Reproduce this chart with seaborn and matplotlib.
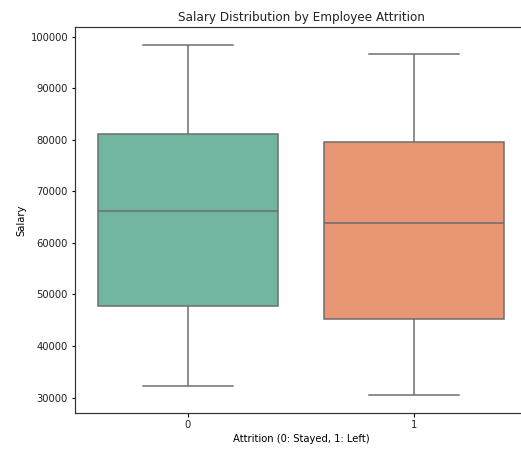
import matplotlib
matplotlib.use("Agg")
import matplotlib.pyplot as plt
import seaborn as sns
import pandas as pd

# Salary samples per attrition group (five-number style samples)
salary_stayed = [32300, 47700, 66100, 81200, 98500]
salary_left = [30400, 45300, 63900, 79500, 96750]
groups = ["0", "1"]

df = pd.DataFrame({
    "Attrition": [groups[0]] * len(salary_stayed) + [groups[1]] * len(salary_left),
    "Salary": salary_stayed + salary_left,
})

W, H, DPI = 521, 452, 72
plt.rcParams["axes.linewidth"] = 1.2
plt.rcParams["xtick.major.width"] = 1.1
plt.rcParams["ytick.major.width"] = 1.1
plt.rcParams["text.color"] = "#222222"
plt.rcParams["xtick.labelcolor"] = "#222222"
plt.rcParams["ytick.labelcolor"] = "#222222"
plt.rcParams["axes.edgecolor"] = "#333333"

fig = plt.figure(figsize=(W / DPI, H / DPI), dpi=DPI)
ax = fig.add_axes([75 / W, (H - 413) / H, 452 / W, 386 / H])

sns.boxplot(data=df, x="Attrition", y="Salary", hue="Attrition",
            palette="Set2", legend=False, ax=ax,
            linecolor="#6c6c6c", linewidth=1.5)

ax.set_title("Salary Distribution by Employee Attrition", fontsize=12)
ax.set_xlabel("Attrition (0: Stayed, 1: Left)", fontsize=10)
ax.set_ylabel("Salary", fontsize=10)

fig.savefig("out.png", dpi=DPI)
